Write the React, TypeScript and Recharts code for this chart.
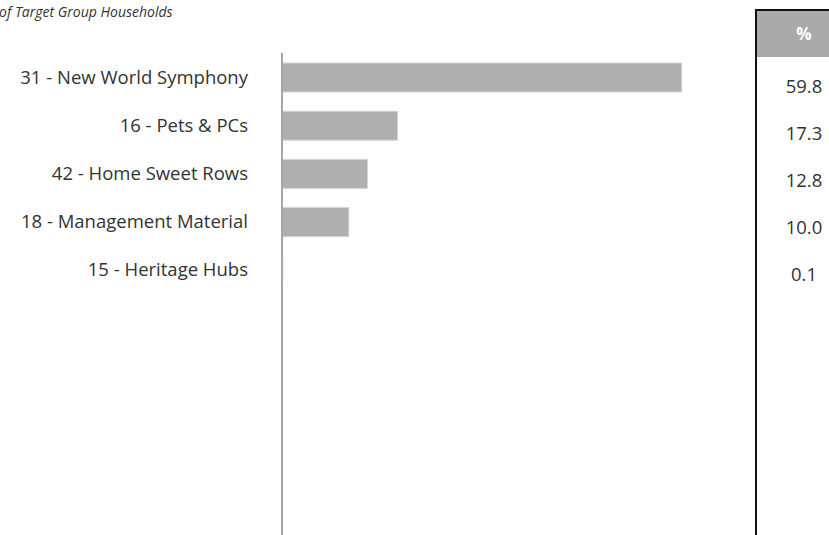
import React from 'react';
import { BarChart, Bar, XAxis, YAxis } from 'recharts';

const segments = [
  '31 - New World Symphony',
  '16 - Pets & PCs',
  '42 - Home Sweet Rows',
  '18 - Management Material',
  '15 - Heritage Hubs',
];
const shares = [59.8, 17.3, 12.8, 10.0, 0.1];
const slotCount = 10;
const titleText = 'of Target Group Households';
const tableHeader = '%';

const FONT = '"Open Sans", "Noto Sans", sans-serif';

const App: React.FC = () => {
  // pad with empty slots so bars sit in the upper half like the reference
  const rows = Array.from({ length: slotCount }, (_, i) => ({
    name: i < segments.length ? segments[i] : `slot-${i}`,
    value: i < shares.length ? shares[i] : null,
  }));

  return (
    <div style={{ position: 'absolute', left: 0, top: 0, width: 829, height: 535, overflow: 'hidden', background: '#fff', fontFamily: FONT }}>
      <div style={{ position: 'absolute', left: -1, top: 2, fontSize: 14, fontStyle: 'italic', color: '#333' }}>
        {titleText}
      </div>

      <div style={{ position: 'absolute', left: 0, top: 0 }}>
        <BarChart
          width={740}
          height={535}
          data={rows}
          layout="vertical"
          barSize={29}
          margin={{ top: 53, right: 57, bottom: 0, left: 0 }}
        >
          <XAxis type="number" domain={[0, 60]} hide />
          <YAxis
            type="category"
            dataKey="name"
            width={282}
            axisLine={{ stroke: '#a6a6a6', strokeWidth: 2 }}
            tickLine={false}
            tickSize={0}
            tickMargin={34}
            interval={0}
            tick={{ fill: '#333', fontSize: 18.5, fontFamily: FONT }}
            tickFormatter={(v: string) => (v.startsWith('slot-') ? '' : v)}
          />
          <Bar dataKey="value" fill="#afafaf" stroke="#d4d4d4" strokeWidth={1} isAnimationActive={false} />
        </BarChart>
      </div>

      <div
        style={{
          position: 'absolute',
          left: 755,
          top: 9,
          width: 96,
          height: 540,
          borderLeft: '2.5px solid #111',
          borderTop: '2.5px solid #111',
          boxSizing: 'border-box',
        }}
      >
        <div style={{ height: 46, background: '#aaaaaa', color: '#fff', fontWeight: 700, fontSize: 17, textAlign: 'center', lineHeight: '46px' }}>
          {tableHeader}
        </div>
        <div style={{ height: 4.5 }} />
        {shares.map((s) => (
          <div key={s} style={{ height: 47, lineHeight: '47px', textAlign: 'center', fontSize: 18.5, color: '#333' }}>
            {s.toFixed(1)}
          </div>
        ))}
      </div>
    </div>
  );
};

export default App;
